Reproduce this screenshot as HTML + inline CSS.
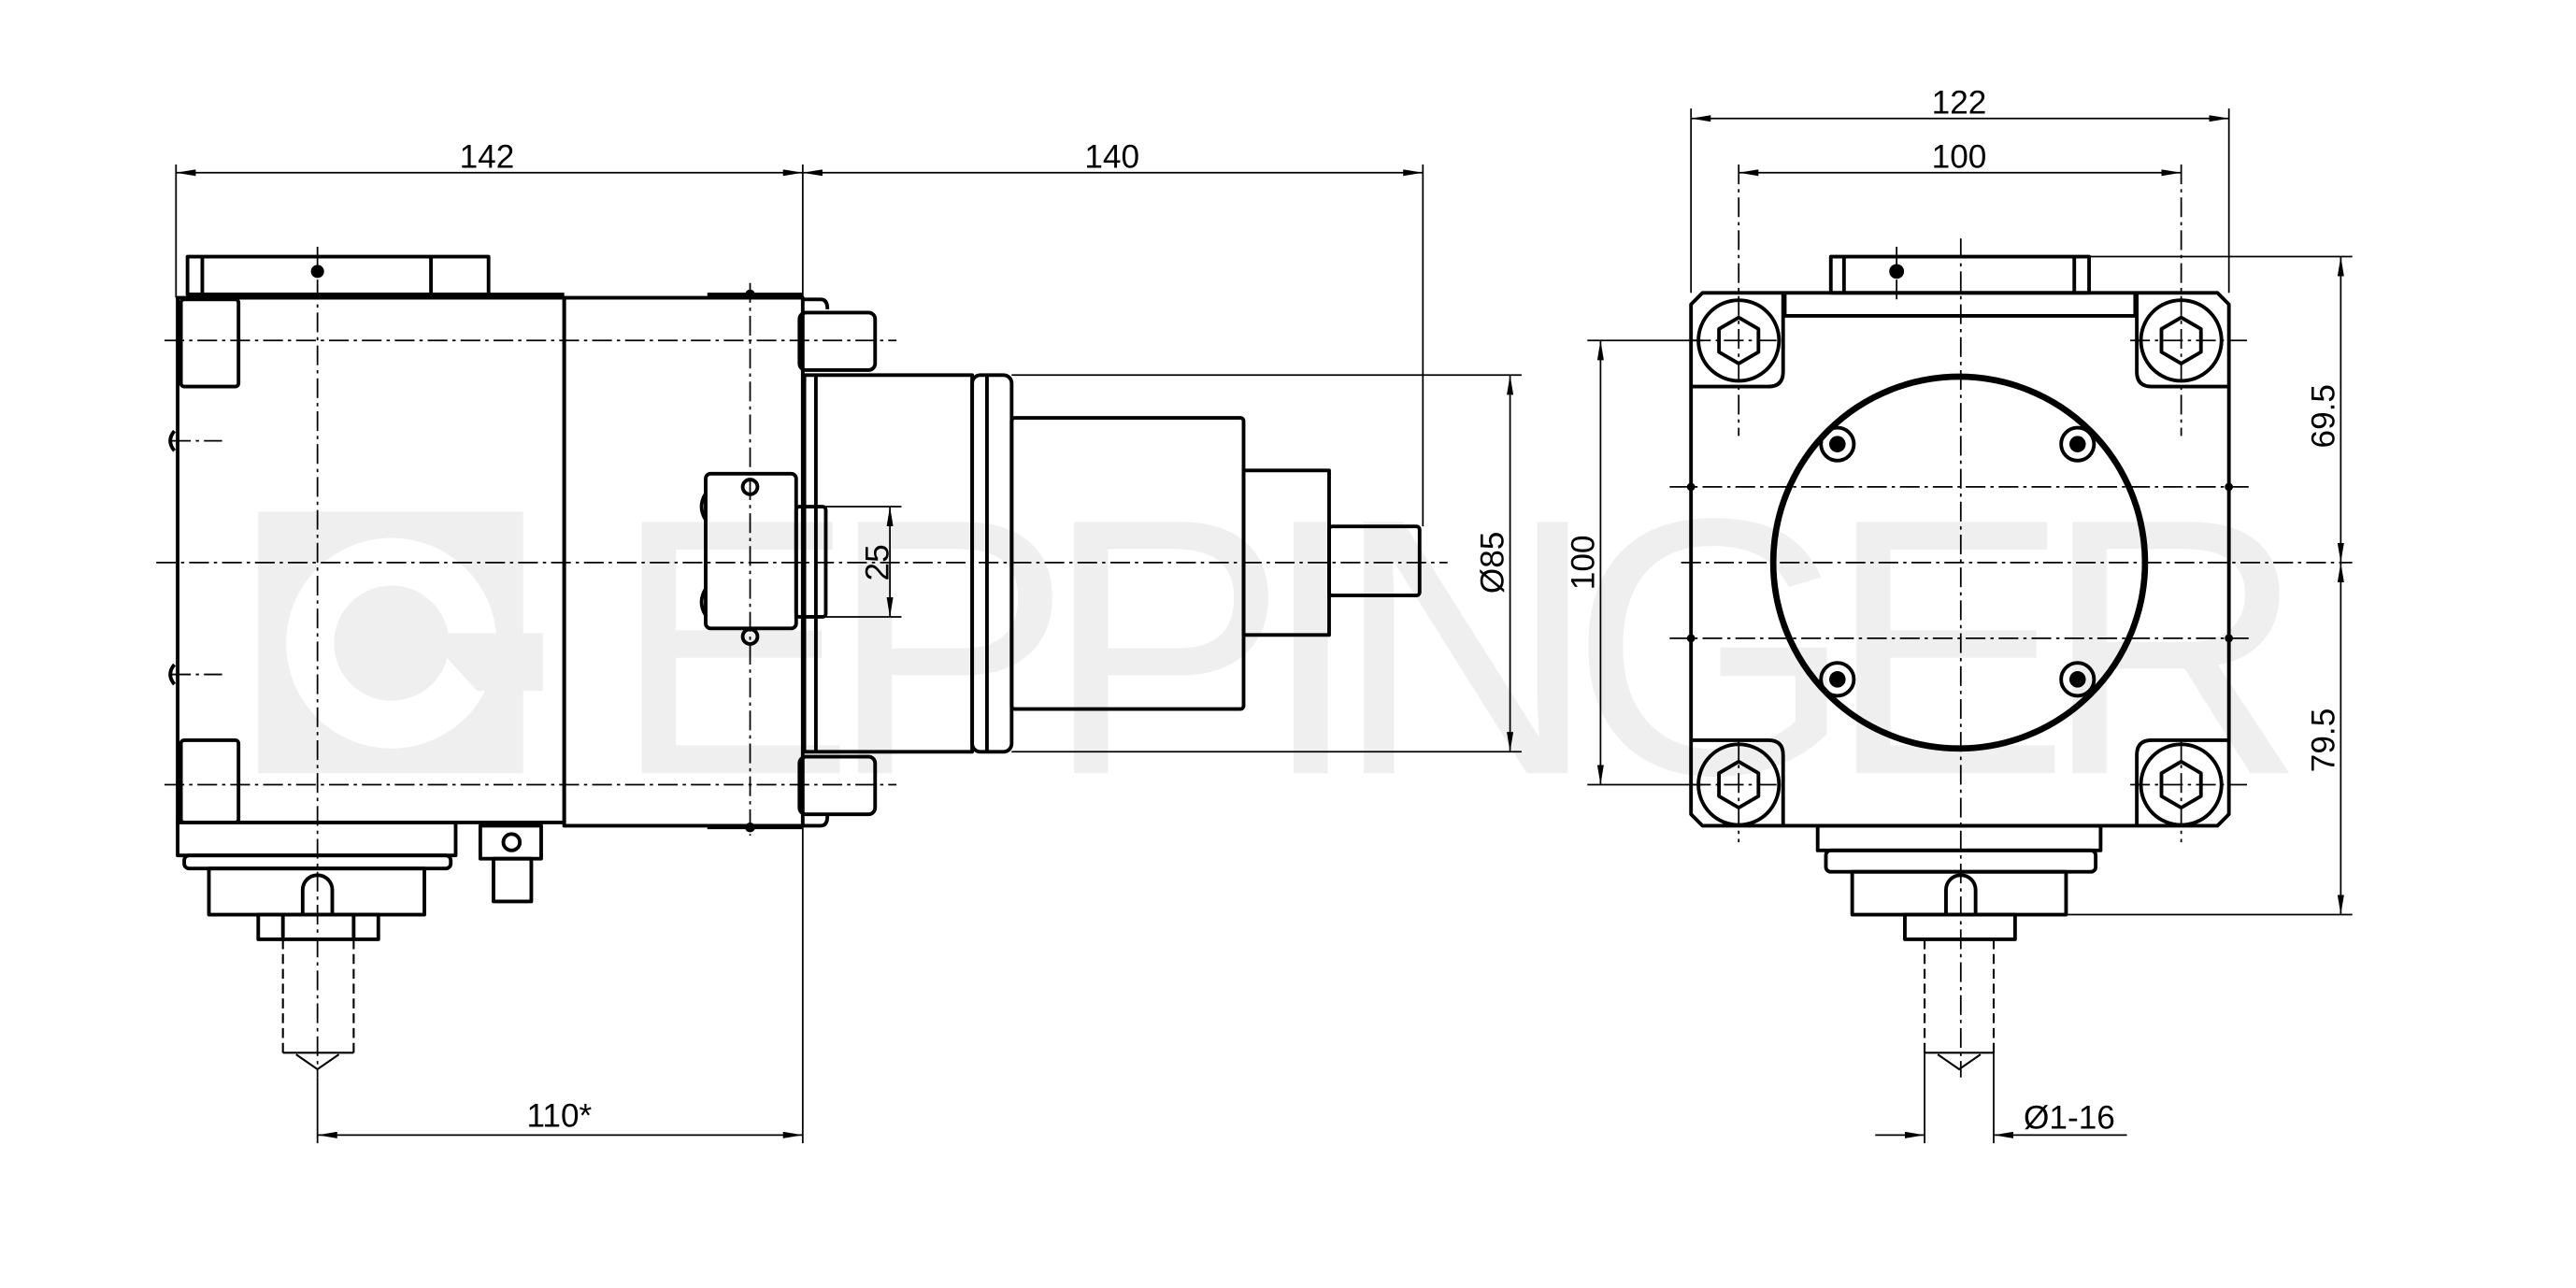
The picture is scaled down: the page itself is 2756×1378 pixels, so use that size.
<!DOCTYPE html>
<html><head><meta charset="utf-8"><style>
html,body{margin:0;padding:0;background:#fff;}
svg{display:block;}
text{font-family:"Liberation Sans",sans-serif;fill:#000;}
</style></head><body>
<svg width="2756" height="1378" viewBox="0 0 1566 783" preserveAspectRatio="none" xmlns="http://www.w3.org/2000/svg">
<defs>
<marker id="a" viewBox="0 0 12 4" refX="12" refY="2" markerWidth="12" markerHeight="4" markerUnits="userSpaceOnUse" orient="auto-start-reverse"><path d="M0,0 L12,2 L0,4 z" fill="#000"/></marker>
</defs>
<!-- watermark -->
<g fill="#efefef">
<rect x="157" y="311" width="161" height="159"/>
<text x="372" y="470" font-size="222" textLength="1030" lengthAdjust="spacing" style="fill:#efefef">EPPINGER</text>
</g>
<path d="M238,327 a64,64 0 1 1 -0.1,0 z M238,356 a35,35 0 1 0 0.1,0 z" fill="#fff" fill-rule="evenodd"/>
<path d="M258,385 L330,385 L330,420 L290,420 z" fill="#efefef"/>

<g fill="none" stroke="#000" stroke-width="2.2" stroke-linejoin="round">
<!-- LEFT VIEW -->
<rect x="114" y="156" width="183" height="23"/>
<line x1="123" y1="156" x2="123" y2="179"/><line x1="262" y1="156" x2="262" y2="179"/>
<rect x="108" y="181" width="235" height="319"/>
<line x1="114" y1="179" x2="343" y2="179"/>
<rect x="110" y="182" width="35" height="53" rx="2"/>
<rect x="110" y="450" width="35" height="50" rx="2"/>
<rect x="343" y="181" width="145" height="321"/>
<path d="M430,179 L488,179"/>
<path d="M430,503 L488,503"/>
<rect x="486" y="190" width="46" height="35" rx="4"/>
<rect x="486" y="460" width="46" height="35" rx="4"/>
<path d="M488,182 L499,182 Q503,182 503,188"/>
<path d="M488,502 L499,502 Q503,502 503,496"/>
<rect x="489" y="228" width="102" height="229"/>
<line x1="496" y1="228" x2="496" y2="457"/>
<rect x="591" y="228" width="24" height="229" rx="5"/>
<line x1="600" y1="228" x2="600" y2="457"/>
<rect x="615" y="254" width="141" height="177" rx="2"/>
<rect x="756" y="286" width="52" height="100"/>
<rect x="808" y="320" width="55" height="42" rx="2"/>
<rect x="429" y="288" width="55" height="94" rx="3"/>
<rect x="484" y="308" width="18" height="67" rx="2"/>
<path d="M429,300 q-5,8 0,16 M429,358 q-5,8 0,16"/>
<path d="M106,262 q-5,6 0,12 M106,404 q-5,6 0,12"/>
<circle cx="456" cy="296" r="4.5"/><circle cx="456" cy="387" r="4.5"/>
<!-- bottom left -->
<rect x="108" y="500" width="169" height="20"/>
<rect x="112" y="520" width="162" height="8" rx="3"/>
<rect x="127" y="528" width="131" height="28"/>
<rect x="157" y="556" width="73" height="15"/>
<line x1="172" y1="556" x2="172" y2="571"/><line x1="215" y1="556" x2="215" y2="571"/>
<path d="M184,556 L184,541 a9,9 0 0 1 18,0 L202,556"/>
<rect x="292" y="502" width="37" height="20"/>
<rect x="300" y="522" width="23" height="26"/>
<circle cx="311" cy="512" r="5"/>
<!-- RIGHT VIEW -->
<rect x="1113" y="156" width="157" height="22"/>
<line x1="1121" y1="156" x2="1121" y2="178"/><line x1="1261" y1="156" x2="1261" y2="178"/>
<path d="M1035,178 L1348,178 L1355,185 L1355,495 L1348,502 L1035,502 L1028,495 L1028,185 z"/>
<path d="M1085,178 L1085,192 L1298,192 L1298,178"/>
<path d="M1028,235 L1075,235 Q1084,235 1084,226 L1084,178 M1355,235 L1308,235 Q1299,235 1299,226 L1299,178"/>
<path d="M1028,450 L1075,450 Q1084,450 1084,459 L1084,502 M1355,450 L1308,450 Q1299,450 1299,459 L1299,502"/>
<circle cx="1057" cy="207" r="24.5"/><circle cx="1326" cy="207" r="24.5"/>
<circle cx="1057" cy="477" r="24.5"/><circle cx="1326" cy="477" r="24.5"/>
<path d="M1057,193 L1069,200 L1069,214 L1057,221 L1045,214 L1045,200 z"/>
<path d="M1326,193 L1338,200 L1338,214 L1326,221 L1314,214 L1314,200 z"/>
<path d="M1057,463 L1069,470 L1069,484 L1057,491 L1045,484 L1045,470 z"/>
<path d="M1326,463 L1338,470 L1338,484 L1326,491 L1314,484 L1314,470 z"/>
<circle cx="1191" cy="342" r="113" stroke-width="3.8"/>
<circle cx="1117" cy="270" r="10"/><circle cx="1263" cy="270" r="10"/>
<circle cx="1117" cy="413" r="10"/><circle cx="1263" cy="413" r="10"/>
<rect x="1105" y="502" width="172" height="15"/>
<rect x="1110" y="517" width="164" height="13" rx="3"/>
<rect x="1126" y="530" width="130" height="26"/>
<rect x="1158" y="556" width="67" height="15"/>
<path d="M1183,556 L1183,541 a9,9 0 0 1 18,0 L1201,556"/>
</g>
<g fill="#000">
<circle cx="193" cy="165" r="4"/><circle cx="1153" cy="165" r="4.5"/>
<circle cx="1117" cy="270" r="5"/><circle cx="1263" cy="270" r="5"/>
<circle cx="1117" cy="413" r="5"/><circle cx="1263" cy="413" r="5"/>
<circle cx="1028" cy="296" r="2.5"/><circle cx="1355" cy="296" r="2.5"/>
<circle cx="1028" cy="388" r="2.5"/><circle cx="1355" cy="388" r="2.5"/>
<circle cx="456" cy="179" r="3"/><circle cx="456" cy="503" r="3"/>
</g>
<!-- center / hidden lines -->
<g fill="none" stroke="#000" stroke-width="1" stroke-dasharray="12 3 2 3">
<line x1="95" y1="342" x2="880" y2="342"/>
<line x1="193" y1="150" x2="193" y2="655"/>
<line x1="100" y1="207" x2="545" y2="207"/>
<line x1="100" y1="477" x2="545" y2="477"/>
<line x1="456" y1="172" x2="456" y2="508"/>
<line x1="1022" y1="342" x2="1430" y2="342"/>
<line x1="1192" y1="145" x2="1192" y2="655"/>
<line x1="1015" y1="296" x2="1370" y2="296"/>
<line x1="1015" y1="388" x2="1370" y2="388"/>
<line x1="1028" y1="207" x2="1088" y2="207"/><line x1="1295" y1="207" x2="1366" y2="207"/>
<line x1="1028" y1="477" x2="1088" y2="477"/><line x1="1295" y1="477" x2="1366" y2="477"/>
<line x1="1057" y1="100" x2="1057" y2="265"/><line x1="1326" y1="100" x2="1326" y2="265"/>
<line x1="1057" y1="450" x2="1057" y2="512"/><line x1="1326" y1="450" x2="1326" y2="512"/>
<line x1="1153" y1="150" x2="1153" y2="182"/>
<line x1="104" y1="268" x2="135" y2="268"/><line x1="104" y1="410" x2="135" y2="410"/>
</g>
<g fill="none" stroke="#000" stroke-width="1.2" stroke-dasharray="6 3">
<line x1="172" y1="571" x2="172" y2="640"/><line x1="215" y1="571" x2="215" y2="640"/>
<line x1="1170" y1="571" x2="1170" y2="640"/><line x1="1212" y1="571" x2="1212" y2="640"/>
</g>
<g fill="none" stroke="#000" stroke-width="1.2">
<path d="M172,640 L215,640 M180,641 L193,650 L206,641"/>
<path d="M1170,640 L1212,640 M1178,641 L1191,650 L1204,641"/>
</g>
<!-- dimension lines -->
<g fill="none" stroke="#000" stroke-width="1">
<line x1="107" y1="100" x2="107" y2="181"/>
<line x1="488" y1="100" x2="488" y2="695"/>
<line x1="865" y1="100" x2="865" y2="320"/>
<line x1="193" y1="655" x2="193" y2="695"/>
<line x1="107" y1="105" x2="488" y2="105" marker-start="url(#a)" marker-end="url(#a)"/>
<line x1="488" y1="105" x2="865" y2="105" marker-start="url(#a)" marker-end="url(#a)"/>
<line x1="193" y1="690" x2="488" y2="690" marker-start="url(#a)" marker-end="url(#a)"/>
<line x1="615" y1="228" x2="925" y2="228"/><line x1="615" y1="457" x2="925" y2="457"/>
<line x1="918" y1="228" x2="918" y2="457" marker-start="url(#a)" marker-end="url(#a)"/>
<line x1="502" y1="308" x2="548" y2="308"/><line x1="502" y1="375" x2="548" y2="375"/>
<line x1="541" y1="308" x2="541" y2="375" marker-start="url(#a)" marker-end="url(#a)"/>
<line x1="1028" y1="66" x2="1028" y2="178"/><line x1="1355" y1="66" x2="1355" y2="178"/>
<line x1="1028" y1="72" x2="1355" y2="72" marker-start="url(#a)" marker-end="url(#a)"/>
<line x1="1057" y1="105" x2="1326" y2="105" marker-start="url(#a)" marker-end="url(#a)"/>
<line x1="965" y1="207" x2="1035" y2="207"/><line x1="965" y1="477" x2="1035" y2="477"/>
<line x1="973" y1="207" x2="973" y2="477" marker-start="url(#a)" marker-end="url(#a)"/>
<line x1="1270" y1="156" x2="1430" y2="156"/><line x1="1256" y1="556" x2="1430" y2="556"/>
<line x1="1423" y1="156" x2="1423" y2="342" marker-start="url(#a)" marker-end="url(#a)"/>
<line x1="1423" y1="342" x2="1423" y2="556" marker-start="url(#a)" marker-end="url(#a)"/>
<line x1="1170" y1="640" x2="1170" y2="695"/><line x1="1212" y1="640" x2="1212" y2="695"/>
<line x1="1140" y1="690" x2="1170" y2="690" marker-end="url(#a)"/>
<line x1="1293" y1="690" x2="1212" y2="690" marker-end="url(#a)"/>
</g>
<g font-size="20">
<text x="296" y="102" text-anchor="middle">142</text>
<text x="676" y="102" text-anchor="middle">140</text>
<text x="340" y="685" text-anchor="middle">110*</text>
<text x="1191" y="69" text-anchor="middle">122</text>
<text x="1191" y="102" text-anchor="middle">100</text>
<text x="1258" y="686" text-anchor="middle">Ø1-16</text>
<text transform="translate(540,342) rotate(-90)" text-anchor="middle">25</text>
<text transform="translate(914,342) rotate(-90)" text-anchor="middle">Ø85</text>
<text transform="translate(969,342) rotate(-90)" text-anchor="middle">100</text>
<text transform="translate(1419,253) rotate(-90)" text-anchor="middle">69.5</text>
<text transform="translate(1419,450) rotate(-90)" text-anchor="middle">79.5</text>
</g>
</svg>
</body></html>
